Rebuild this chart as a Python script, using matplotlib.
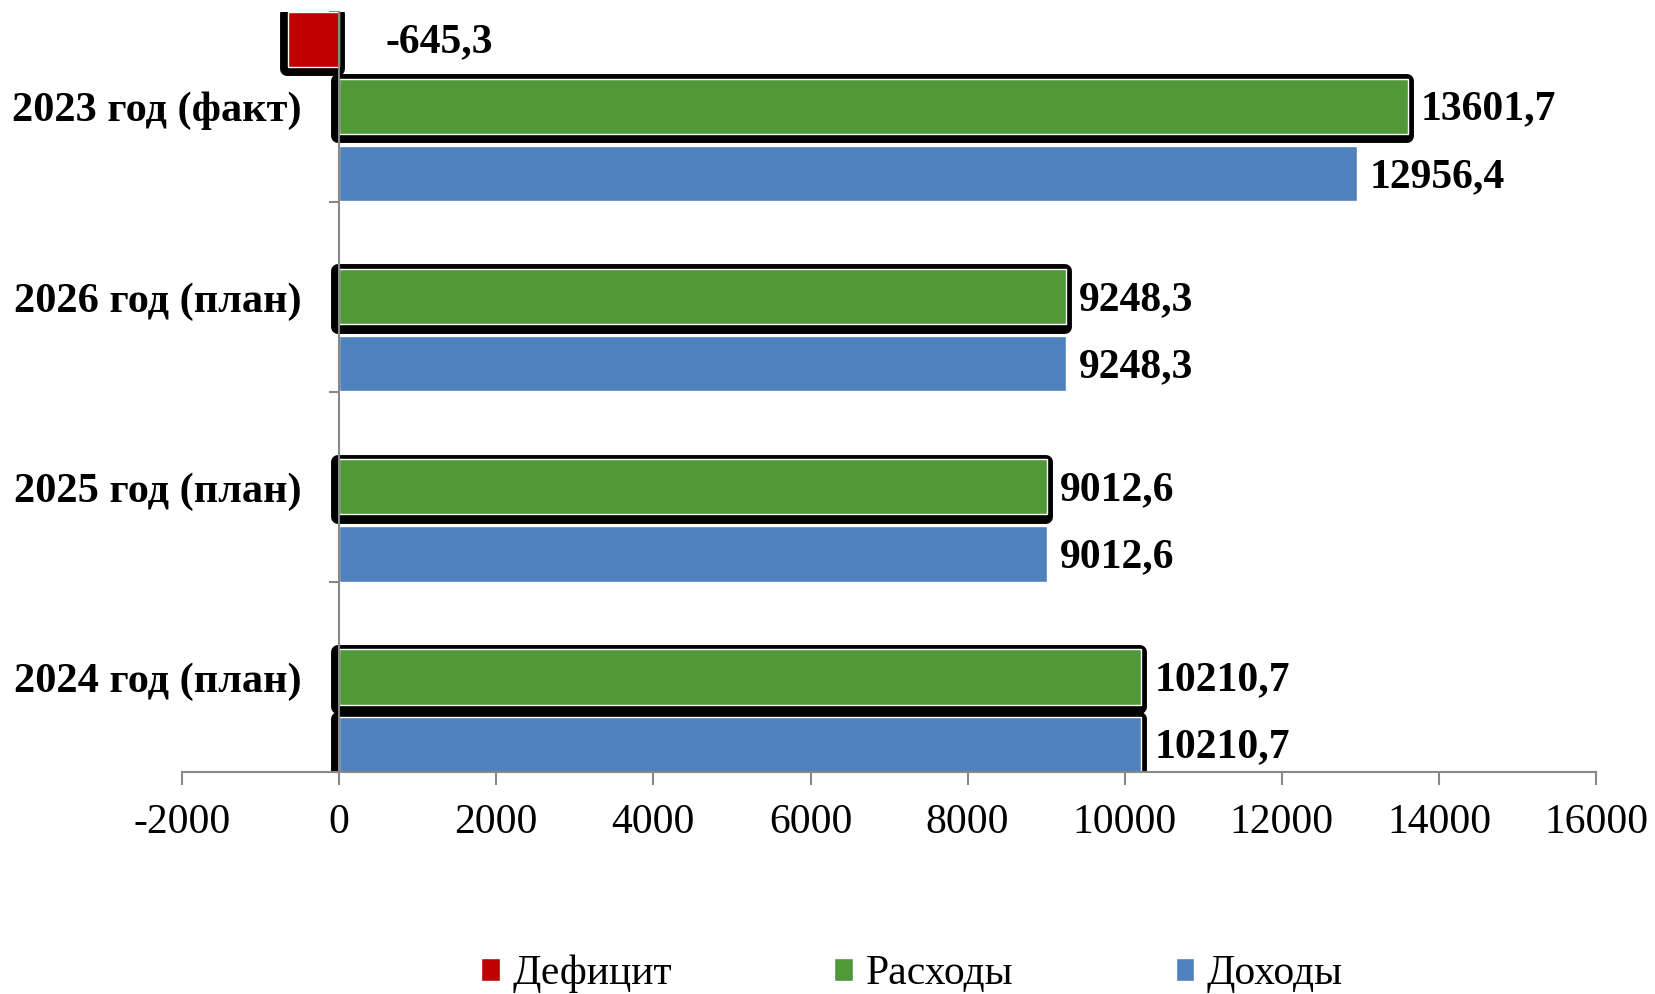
import numpy as np
import matplotlib.pyplot as plt
import matplotlib.patheffects as pe

plt.rcParams['font.family'] = ['Liberation Serif', 'DejaVu Serif']

categories = ["2024 год (план)", "2025 год (план)", "2026 год (план)", "2023 год (факт)"]
dohody = [10210.7, 9012.6, 9248.3, 12956.4]
rashody = [10210.7, 9012.6, 9248.3, 13601.7]
deficit = [0, 0, 0, -645.3]
series_names = ["Дефицит", "Расходы", "Доходы"]
colors = ["#C00000", "#519839", "#4F81BD"]
xticks = np.arange(-2000, 16001, 2000)


def fmt(v):
    return ("%.1f" % v).replace(".", ",")


fig = plt.figure(figsize=(16.55, 9.94), dpi=100)
ax = fig.add_axes([0.110, 0.2233, 0.8544, 0.765])

# spine position first: set_position resets the ticks
for s in ["top", "right"]:
    ax.spines[s].set_visible(False)
for s in ["left", "bottom"]:
    ax.spines[s].set_color("#888888")
    ax.spines[s].set_linewidth(1.5)
ax.spines["left"].set_position(("data", 0))
ax.spines["left"].set_zorder(4)

y = np.arange(len(categories))
h = 0.29
off = 0.353
series = [deficit, rashody, dohody]
offsets = [off, 0, -off]
shadow = pe.Stroke(linewidth=10, foreground="black", offset=(-0.8, -1.6))

for vals, dy, col, name in zip(series, offsets, colors, series_names):
    # black rounded shadow behind some bars
    for i, v in enumerate(vals):
        if v == 0:
            continue
        if name == "Доходы" and i != 0:
            continue
        sb = ax.barh(y[i] + dy, v, height=h, color="black", zorder=1)
        for p in sb:
            p.set_path_effects([shadow])
            p.set_joinstyle("round")
    bars = ax.barh(y + dy, vals, height=h, color=col, edgecolor="white",
                   linewidth=1, zorder=2, label=name)
    for i, v in enumerate(vals):
        if v == 0:
            continue
        xo = 13 if v > 0 else 46
        ax.annotate(fmt(v), (max(v, 0), y[i] + dy), xytext=(xo, -3),
                    textcoords="offset pixels", va="center", ha="left",
                    fontsize=30, fontweight="bold", zorder=3)

ax.set_xlim(-2000, 16000)
ax.set_ylim(-0.5, 3.5)
ax.set_xticks(xticks)
ax.set_xticklabels([str(t) for t in xticks], fontsize=30)
ax.tick_params(axis="x", direction="out", length=9, width=1.5, color="#888888", pad=14)

ax.set_yticks(y)
ax.set_yticklabels(categories, fontsize=30.5, fontweight="bold")
ax.set_yticks(np.arange(-0.5, 3.6, 1), minor=True)
ax.tick_params(axis="y", which="major", length=0, pad=27)
ax.tick_params(axis="y", which="minor", direction="out", length=7, width=1.5, color="#888888")

handles, labels = ax.get_legend_handles_labels()
fig.legend(handles, labels, loc="center", bbox_to_anchor=(0.551, 0.02), ncol=3,
           frameon=False, fontsize=30, handlelength=0.45, handleheight=0.45,
           handletextpad=0.3, columnspacing=3.9)

fig.savefig("out.png", dpi=100)
